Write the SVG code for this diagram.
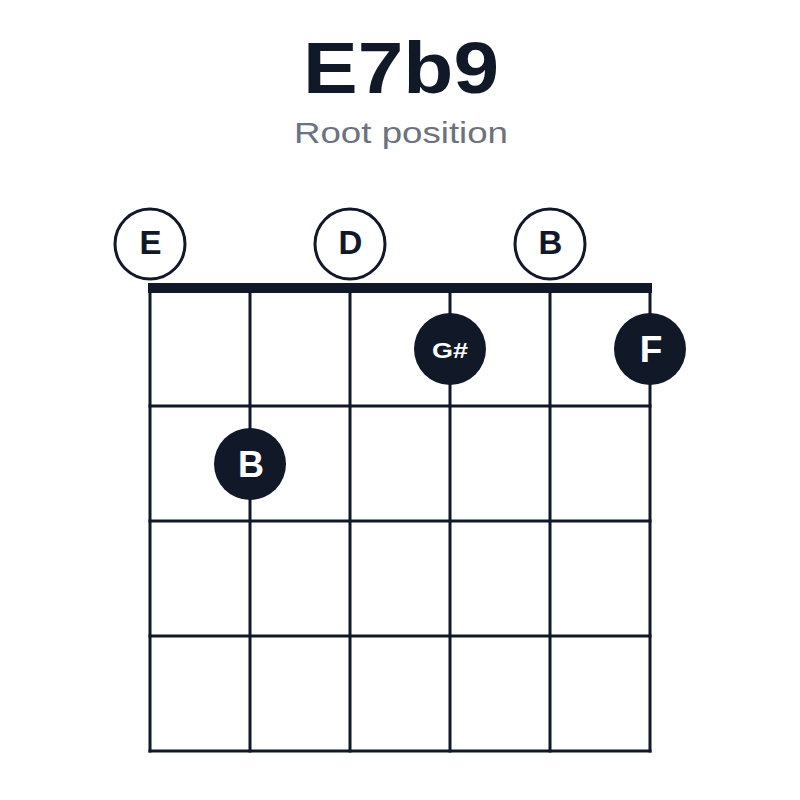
<svg xmlns="http://www.w3.org/2000/svg" width="800" height="800" viewBox="0 0 800 800">
<style>
.title{font-family:"Liberation Sans",Arial,sans-serif;font-weight:700;font-size:72px;fill:#111827}
.sub{font-family:"Liberation Sans",Arial,sans-serif;font-size:30px;fill:#6b7280}
.str{stroke:#111827;stroke-width:3;fill:none}
.open{fill:#ffffff;stroke:#111827;stroke-width:3}
.openlbl{font-family:"Liberation Sans",Arial,sans-serif;font-weight:700;font-size:33px;fill:#111827;text-anchor:middle}
.dot{fill:#111827}
.dotlbl{font-family:"Liberation Sans",Arial,sans-serif;font-weight:700;fill:#ffffff;text-anchor:middle}
</style>
<rect width="800" height="800" fill="#ffffff"/>
<g id="title">
<text class="title" x="303" y="93" textLength="196" lengthAdjust="spacingAndGlyphs">E7b9</text>
<text class="sub" x="294" y="143" textLength="214" lengthAdjust="spacingAndGlyphs">Root position</text>
</g>
<g id="grid">
<line class="str" x1="150" y1="288" x2="150" y2="752.5"/>
<line class="str" x1="250" y1="288" x2="250" y2="752.5"/>
<line class="str" x1="350" y1="288" x2="350" y2="752.5"/>
<line class="str" x1="450" y1="288" x2="450" y2="752.5"/>
<line class="str" x1="550" y1="288" x2="550" y2="752.5"/>
<line class="str" x1="650" y1="288" x2="650" y2="752.5"/>
<line class="str" x1="148.5" y1="406" x2="651.5" y2="406"/>
<line class="str" x1="148.5" y1="521" x2="651.5" y2="521"/>
<line class="str" x1="148.5" y1="636" x2="651.5" y2="636"/>
<line class="str" x1="148.5" y1="751" x2="651.5" y2="751"/>
<rect id="nut" x="148" y="283" width="504" height="10" fill="#111827"/>
</g>
<g id="open-E">
<circle class="open" cx="150" cy="244" r="35"/>
<text class="openlbl" x="150.5" y="254">E</text>
</g>
<g id="open-D">
<circle class="open" cx="350" cy="244" r="35"/>
<text class="openlbl" x="350.5" y="254">D</text>
</g>
<g id="open-B">
<circle class="open" cx="550" cy="244" r="35"/>
<text class="openlbl" x="550.5" y="254">B</text>
</g>
<g id="dot-Gsharp">
<circle class="dot" cx="450" cy="349" r="36"/>
<text class="dotlbl" x="450" y="357.5" font-size="22" textLength="36" lengthAdjust="spacingAndGlyphs">G#</text>
</g>
<g id="dot-F">
<circle class="dot" cx="650" cy="349" r="36"/>
<text class="dotlbl" x="651" y="361.5" font-size="37">F</text>
</g>
<g id="dot-B">
<circle class="dot" cx="250" cy="464" r="36"/>
<text class="dotlbl" x="251" y="476.5" font-size="36">B</text>
</g>
</svg>
